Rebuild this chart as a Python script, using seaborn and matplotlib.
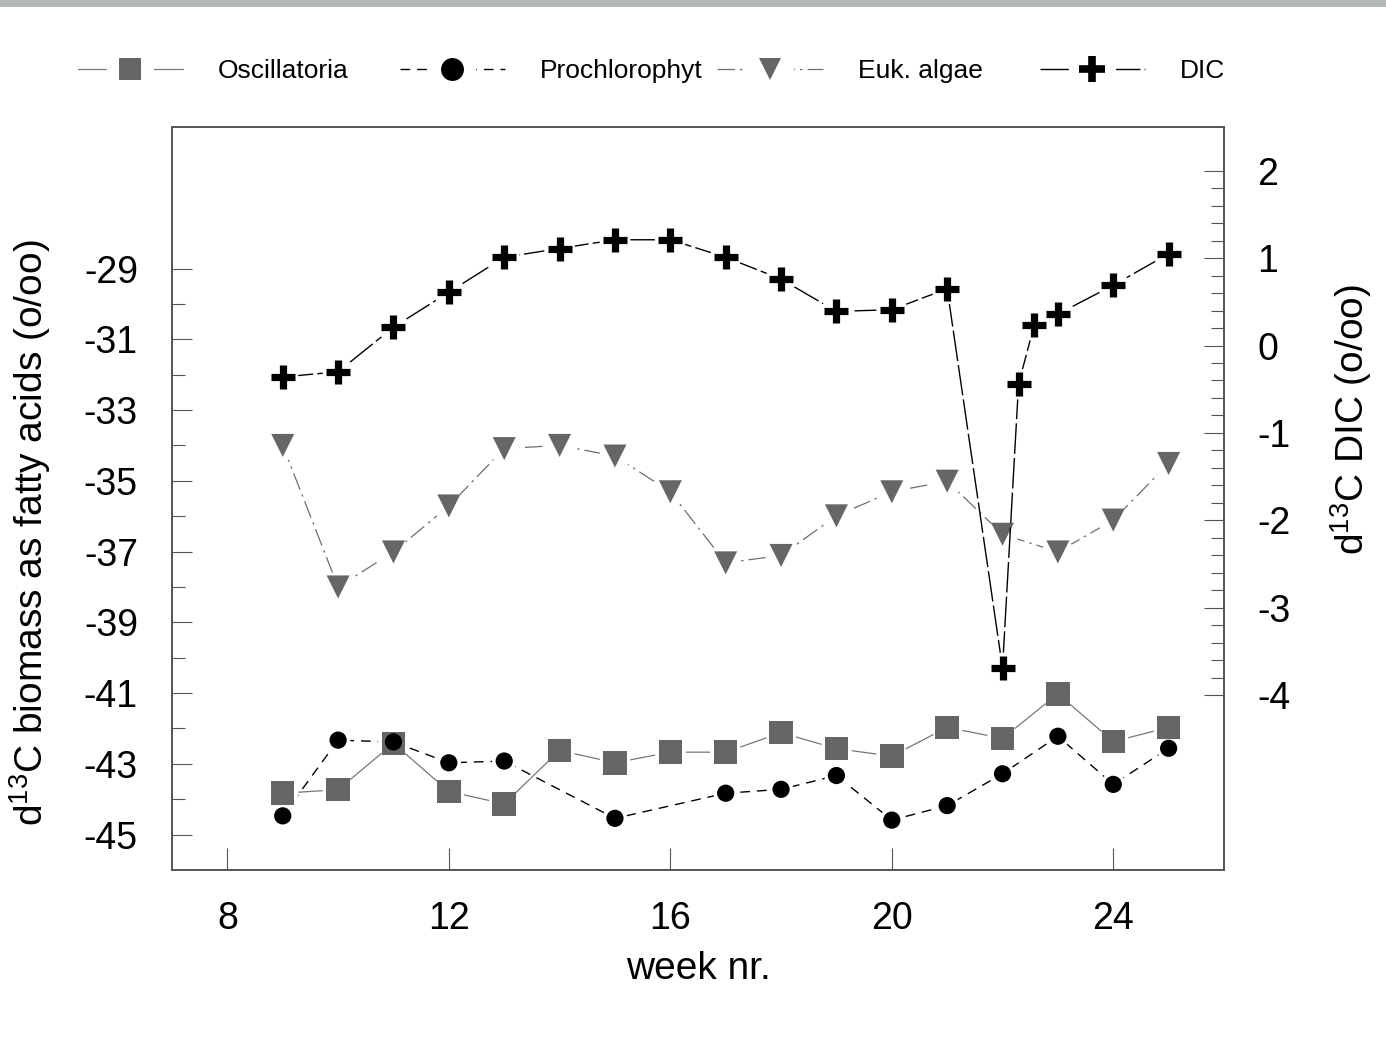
import matplotlib
matplotlib.use("Agg")
import matplotlib.pyplot as plt
import seaborn as sns
from matplotlib.lines import Line2D
from matplotlib.legend_handler import HandlerTuple
from matplotlib.patches import Rectangle
from matplotlib.ticker import FixedLocator

# ---------------- data ----------------
series_names = ["Oscillatoria", "Prochlorophyt", "Euk. algae", "DIC"]

osc_weeks = [9, 10, 11, 12, 13, 14, 15, 16, 17, 18, 19, 20, 21, 22, 23, 24, 25]
osc_vals = [-43.83, -43.73, -42.42, -43.78, -44.13, -42.62, -42.97, -42.67, -42.67,
            -42.12, -42.57, -42.78, -41.97, -42.28, -41.02, -42.37, -41.97]

pro_weeks = [9, 10, 11, 12, 13, 15, 17, 18, 19, 20, 21, 22, 23, 24, 25]
pro_vals = [-44.47, -42.33, -42.38, -42.97, -42.92, -44.54, -43.83, -43.72, -43.33,
            -44.59, -44.18, -43.28, -42.22, -43.58, -42.56]

euk_weeks = [9, 10, 11, 12, 13, 14, 15, 16, 17, 18, 19, 20, 21, 22, 23, 24, 25]
euk_vals = [-34.00, -38.00, -37.01, -35.71, -34.09, -34.00, -34.30, -35.31, -37.32,
            -37.11, -35.99, -35.31, -35.01, -36.51, -37.01, -36.11, -34.51]

dic_weeks = [9, 10, 11, 12, 13, 14, 15, 16, 17, 18, 19, 20, 21, 22, 22.29, 22.57, 23, 24, 25]
dic_vals = [-0.36, -0.30, 0.21, 0.61, 1.01, 1.11, 1.21, 1.21, 1.01, 0.76, 0.39, 0.41,
            0.65, -3.69, -0.44, 0.23, 0.36, 0.69, 1.05]

x_ticks = [8, 12, 16, 20, 24]
left_major = [-45, -43, -41, -39, -37, -35, -33, -31, -29]
left_minor = [-44, -42, -40, -38, -36, -34, -32, -30]
right_major = [-4, -3, -2, -1, 0, 1, 2]
right_minor = [round(-4 + 0.2 * i, 1) for i in range(31) if i % 5 != 0]

x_label = "week nr."
left_label = r"d$^{\mathregular{13}}$C biomass as fatty acids (o/oo)"
right_label = r"d$^{\mathregular{13}}$C DIC (o/oo)"

# ---------------- style ----------------
sns.set_style("white")
plt.rcParams["font.family"] = ["Liberation Sans", "DejaVu Sans"]
plt.rcParams["mathtext.fontset"] = "custom"
plt.rcParams["mathtext.rm"] = "Liberation Sans"
for key in ["text.color", "axes.labelcolor", "xtick.labelcolor", "ytick.labelcolor"]:
    plt.rcParams[key] = "black"

GREY = "#666666"
SPINE = "#555555"

fig = plt.figure(figsize=(13.86, 10.41), dpi=100)
fig.patches.append(Rectangle((0, 1 - 7 / 1041), 1, 7 / 1041, transform=fig.transFigure,
                             facecolor="#b4b8b8", edgecolor="none", zorder=0))
ax = fig.add_axes([172 / 1386, 171 / 1041, 1052 / 1386, 743 / 1041])
ax.set_facecolor("white")
ax2 = ax.twinx()

# line styles
osc_ls = dict(color="#777777", lw=0.9, linestyle="-")
pro_ls = dict(color="black", lw=1.0, linestyle=(0, (7, 5)))
euk_ls = dict(color="#6e6e6e", lw=0.9, linestyle=(0, (14, 4, 2, 4)))
dic_ls = dict(color="black", lw=1.0, linestyle=(0, (22, 3)))

# ---- lines ----
sns.lineplot(x=osc_weeks, y=osc_vals, ax=ax, zorder=2, **osc_ls)
sns.lineplot(x=pro_weeks, y=pro_vals, ax=ax, zorder=2, **pro_ls)
sns.lineplot(x=euk_weeks, y=euk_vals, ax=ax, zorder=2, **euk_ls)
sns.lineplot(x=dic_weeks, y=dic_vals, ax=ax2, zorder=2, **dic_ls)

# ---- white halos (gap between line and marker) ----
for xs, ys, d, a in [(osc_weeks, osc_vals, 22.3, ax), (pro_weeks, pro_vals, 17.5, ax),
                     (euk_weeks, euk_vals, 22.3, ax), (dic_weeks, dic_vals, 22.3, ax2)]:
    sns.scatterplot(x=xs, y=ys, ax=a, marker="o", s=d ** 2, color="white",
                    edgecolor="none", linewidth=0, zorder=3, legend=False)

# ---- markers ----
sns.scatterplot(x=osc_weeks, y=osc_vals, ax=ax, marker="s", s=16.9 ** 2, color=GREY,
                edgecolor="none", linewidth=0, zorder=4, legend=False)
sns.scatterplot(x=pro_weeks, y=pro_vals, ax=ax, marker="o", s=12.4 ** 2, color="black",
                edgecolor="none", linewidth=0, zorder=4, legend=False)
sns.scatterplot(x=euk_weeks, y=euk_vals, ax=ax, marker="v", s=16.6 ** 2, color=GREY,
                edgecolor="none", linewidth=0, zorder=4, legend=False)
sns.scatterplot(x=dic_weeks, y=dic_vals, ax=ax2, marker="+", s=17.0 ** 2, color="black",
                edgecolor="black", linewidth=5.2, zorder=4, legend=False)

# ---------------- axes ----------------
ax.set_xlim(7, 26)
ax.set_ylim(-46, -25)
ax2.set_ylim(-6, 2.5)

ax.xaxis.set_major_locator(FixedLocator(x_ticks))
ax.set_xticklabels([str(t) for t in x_ticks])
ax.yaxis.set_major_locator(FixedLocator(left_major))
ax.yaxis.set_minor_locator(FixedLocator(left_minor))
ax.set_yticklabels([str(t) for t in left_major])
ax2.yaxis.set_major_locator(FixedLocator(right_major))
ax2.yaxis.set_minor_locator(FixedLocator(right_minor))
ax2.set_yticklabels([str(t) for t in right_major])

ax.tick_params(axis="x", which="major", direction="in", length=15.6, width=0.8,
               color=SPINE, labelcolor="black", pad=22, labelsize=27, bottom=True, top=False)
ax.tick_params(axis="x", which="minor", bottom=False, top=False)
ax.tick_params(axis="y", which="major", direction="in", length=14.4, width=0.8,
               color=SPINE, labelcolor="black", pad=24.5, labelsize=27, left=True, right=False)
ax.tick_params(axis="y", which="minor", direction="in", length=9.4, width=0.8,
               color=SPINE, left=True, right=False)
ax2.tick_params(axis="y", which="major", direction="in", length=14.4, width=0.8,
                color=SPINE, labelcolor="black", pad=24, labelsize=27, right=True, left=False)
ax2.tick_params(axis="y", which="minor", direction="in", length=9.4, width=0.8,
                color=SPINE, right=True, left=False)

for a in (ax, ax2):
    for sp in a.spines.values():
        sp.set_visible(True)
        sp.set_color(SPINE)
        sp.set_linewidth(1.2)

ax.set_xlabel(x_label, fontsize=28, color="black")
ax.xaxis.set_label_coords(0.5, -0.109)
ax.set_ylabel(left_label, fontsize=28, color="black")
ax.yaxis.set_label_coords(-0.1131, 0.4536)
ax2.set_ylabel(right_label, fontsize=28, color="black")
ax2.yaxis.set_label_coords(1.0989, 0.6057)

# ---------------- legend (one entry per column, evenly placed) ----------------
legend_specs = [
    (osc_ls, dict(marker="s", ms=16.5, mfc=GREY, mec="none", mew=0)),
    (pro_ls, dict(marker="o", ms=16.5, mfc="black", mec="none", mew=0)),
    (euk_ls, dict(marker="v", ms=16.5, mfc=GREY, mec="none", mew=0)),
    (dic_ls, dict(marker="+", ms=19, color="black", mew=5.5)),
]
legend_x = [77.5, 399.5, 717.5, 1039.5]
for name, (ls, mk), x0 in zip(series_names, legend_specs, legend_x):
    line = Line2D([], [], **ls)
    halo = Line2D([], [], linestyle="none", marker="o", ms=34, mfc="white", mec="none")
    mark = Line2D([], [], linestyle="none", **mk)
    fig.legend(handles=[(line, halo, mark)], labels=[name], loc="center left",
               bbox_to_anchor=(x0 / 1386, (1041 - 71) / 1041), bbox_transform=fig.transFigure,
               frameon=False, fontsize=19, handlelength=4.0, handletextpad=1.33,
               borderpad=0, borderaxespad=0, labelcolor="black",
               handler_map={tuple: HandlerTuple(ndivide=1, pad=0)})

fig.savefig("out.png", dpi=100)
